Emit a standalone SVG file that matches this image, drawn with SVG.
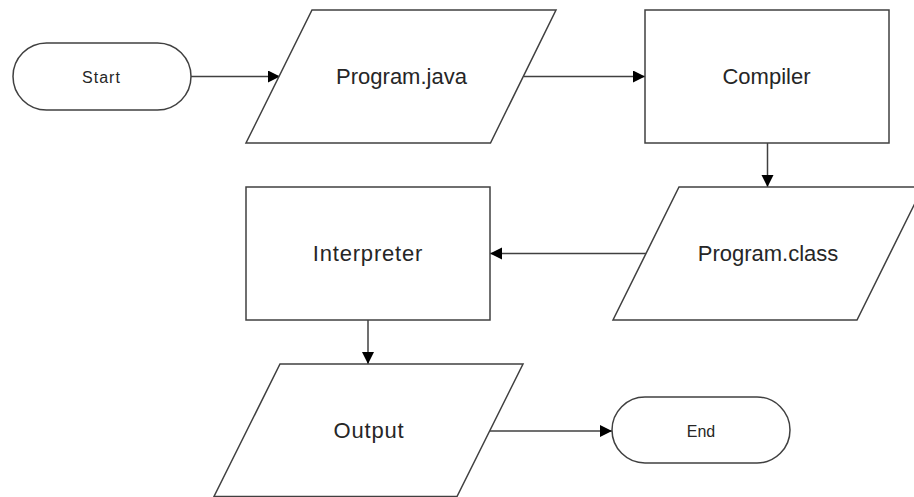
<svg xmlns="http://www.w3.org/2000/svg" width="914" height="497" viewBox="0 0 914 497">
  <style>
    .shape { fill: #ffffff; stroke: #404040; stroke-width: 1.5; }
    .edge { fill: none; stroke: #404040; stroke-width: 1.5; marker-end: url(#arrow); }
    .label { font-family: "Liberation Sans", Arial, sans-serif; font-size: 22px; fill: #262626; text-anchor: middle; }
    .small { font-size: 16px; }
  </style>
  <defs>
    <marker id="arrow" markerUnits="userSpaceOnUse" markerWidth="14" markerHeight="14" refX="12" refY="6" orient="auto">
      <path d="M0,0 L12,6 L0,12 z" fill="#000000"/>
    </marker>
  </defs>
  <rect width="914" height="497" fill="#ffffff"/>

  <g id="connectors">
    <line class="edge" x1="191" y1="76.5" x2="280" y2="76.5"/>
    <line class="edge" x1="524" y1="76.5" x2="645" y2="76.5"/>
    <line class="edge" x1="767.5" y1="143" x2="767.5" y2="187"/>
    <line class="edge" x1="646" y1="253.5" x2="490" y2="253.5"/>
    <line class="edge" x1="368" y1="320" x2="368" y2="364"/>
    <line class="edge" x1="490" y1="431" x2="612" y2="431"/>
  </g>

  <g id="start">
    <rect class="shape" x="13" y="43" width="178" height="67" rx="33.5" ry="33.5"/>
    <text class="label small" x="101.5" y="82.5" letter-spacing="1">Start</text>
  </g>

  <g id="program-java">
    <polygon class="shape" points="312,10 556,10 490.5,143 246,143"/>
    <text class="label" x="401.5" y="84">Program.java</text>
  </g>

  <g id="compiler">
    <rect class="shape" x="645" y="10" width="244" height="133"/>
    <text class="label" x="766.5" y="84">Compiler</text>
  </g>

  <g id="program-class">
    <polygon class="shape" points="679,187 923,187 857,320 613,320"/>
    <text class="label" x="768" y="261">Program.class</text>
  </g>

  <g id="interpreter">
    <rect class="shape" x="246" y="187" width="244" height="133"/>
    <text class="label" x="368" y="261" letter-spacing="0.8">Interpreter</text>
  </g>

  <g id="output">
    <polygon class="shape" points="280,364 523,364 457,496.5 214,496.5"/>
    <text class="label" x="369" y="438" letter-spacing="0.8">Output</text>
  </g>

  <g id="end">
    <rect class="shape" x="612" y="397" width="178" height="66" rx="33" ry="33"/>
    <text class="label small" x="701" y="437">End</text>
  </g>
</svg>
